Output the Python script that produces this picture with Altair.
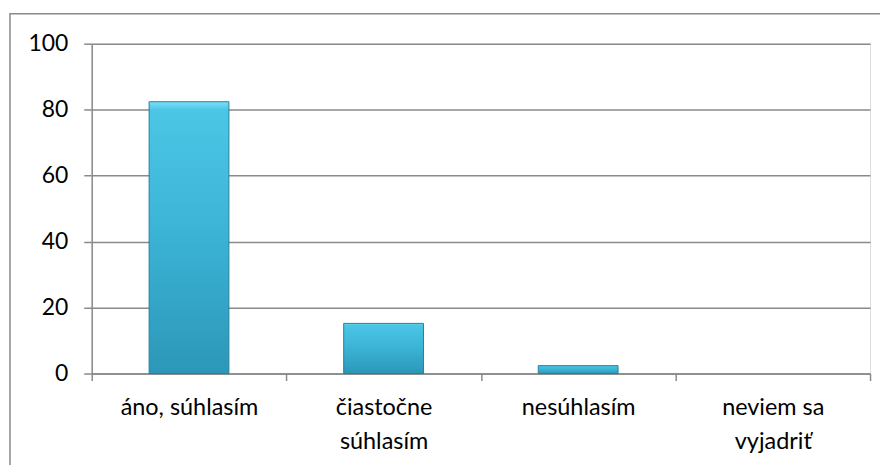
import altair as alt
import pandas as pd

categories = ["áno, súhlasím", "čiastočne súhlasím", "nesúhlasím", "neviem sa vyjadriť"]
values = [82.4, 15.2, 2.4, 0]
label_lines = {
    "áno, súhlasím": ["áno, súhlasím"],
    "čiastočne súhlasím": ["čiastočne", "súhlasím"],
    "nesúhlasím": ["nesúhlasím"],
    "neviem sa vyjadriť": ["neviem sa", "vyjadriť"],
}
y_ticks = [0, 20, 40, 60, 80, 100]

df = pd.DataFrame({"kategoria": categories, "hodnota": values})

label_expr = " : ".join(
    f"datum.value == '{k}' ? {v!r}" for k, v in label_lines.items()
) + " : datum.value"

FONT = "Lato"
GRAY = "#8a8a8a"

grad = alt.Gradient(
    gradient="linear",
    x1=0, x2=0, y1=0, y2=1,
    stops=[
        alt.GradientStop(color="#7ae0f7", offset=0),
        alt.GradientStop(color="#4cc6e5", offset=0.03),
        alt.GradientStop(color="#3cb5d7", offset=0.45),
        alt.GradientStop(color="#2c97b8", offset=1),
    ],
)

base = alt.Chart(df)

border = base.mark_rect(filled=False, stroke=GRAY, strokeWidth=1.5, clip=False).encode(
    x=alt.value(-82), x2=alt.value(900), y=alt.value(-30), y2=alt.value(500)
).transform_filter("datum.kategoria == 'áno, súhlasím'")

bars = base.mark_bar(
    fill=grad, stroke="#23819e", strokeWidth=1, width=alt.RelativeBandSize(0.41)
).encode(
    x=alt.X(
        "kategoria:N",
        sort=categories,
        scale=alt.Scale(paddingInner=0, paddingOuter=0),
        axis=alt.Axis(
            title=None,
            labelAngle=0,
            labelExpr=label_expr,
            labelFont=FONT,
            labelFontSize=23.5,
            labelColor="#000000",
            labelPadding=15,
            labelLineHeight=34,
            labelBaseline="top",
            tickBand="extent",
            tickSize=7,
            tickColor=GRAY,
            tickWidth=1.5,
            domainColor=GRAY,
            domainWidth=1.5,
            grid=False,
        ),
    ),
    y=alt.Y(
        "hodnota:Q",
        scale=alt.Scale(domain=[0, 100]),
        axis=alt.Axis(
            title=None,
            values=y_ticks,
            labelFont=FONT,
            labelFontSize=23,
            labelColor="#000000",
            labelPadding=16,
            tickSize=8,
            tickColor=GRAY,
            tickWidth=1.5,
            domainColor=GRAY,
            domainWidth=1.5,
            gridColor=GRAY,
            gridWidth=1.5,
        ),
    ),
    strokeOpacity=alt.condition("datum.hodnota > 0", alt.value(1), alt.value(0)),
)

chart = alt.layer(border, bars).properties(
    width=781,
    height=331,
    autosize=alt.AutoSizeParams(type="none"),
    padding={"left": 84, "top": 35, "right": 10, "bottom": 100},
).configure_view(stroke=None).configure(background="white")

chart.save("out.html", embed_options={"renderer": "svg", "actions": False})
